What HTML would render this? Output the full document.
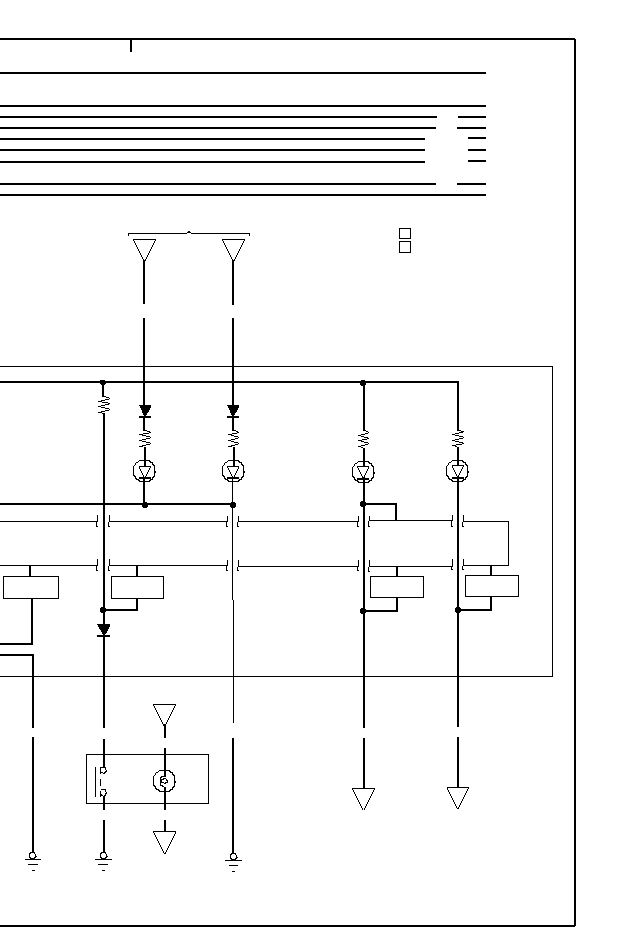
<!DOCTYPE html>
<html><head><meta charset="utf-8"><style>
html,body{margin:0;padding:0;background:#fff;width:640px;height:950px;overflow:hidden;font-family:"Liberation Sans",sans-serif}
svg{display:block}
</style></head><body>
<svg width="640" height="950" viewBox="0 0 640 950" shape-rendering="crispEdges">
<g fill="#000">
<rect x="0" y="38" width="575" height="2"/>
<rect x="574" y="39" width="2" height="887"/>
<rect x="0" y="925" width="575" height="2"/>
<rect x="130" y="38" width="2" height="14"/>
<rect x="0" y="72" width="486" height="2"/>
<rect x="0" y="105" width="486" height="2"/>
<rect x="0" y="116" width="437" height="2"/>
<rect x="458" y="116" width="28" height="2"/>
<rect x="0" y="127" width="436" height="2"/>
<rect x="457" y="127" width="29" height="2"/>
<rect x="0" y="138" width="425" height="2"/>
<rect x="468" y="137" width="18" height="2"/>
<rect x="0" y="149" width="425" height="2"/>
<rect x="468" y="149" width="18" height="2"/>
<rect x="0" y="161" width="425" height="2"/>
<rect x="468" y="160" width="18" height="2"/>
<rect x="0" y="183" width="436" height="2"/>
<rect x="457" y="183" width="29" height="2"/>
<rect x="0" y="194" width="486" height="2"/>
<rect x="399" y="228" width="12" height="1"/>
<rect x="399" y="238" width="12" height="1"/>
<rect x="399" y="228" width="1" height="11"/>
<rect x="410" y="228" width="1" height="11"/>
<rect x="399" y="241" width="12" height="1"/>
<rect x="399" y="252" width="12" height="1"/>
<rect x="399" y="241" width="1" height="12"/>
<rect x="410" y="241" width="1" height="12"/>
<rect x="128" y="233" width="1" height="3"/>
<rect x="128" y="233" width="59" height="1"/>
<rect x="187" y="232" width="4" height="1"/>
<rect x="188" y="231" width="2" height="1"/>
<rect x="191" y="233" width="59" height="1"/>
<rect x="249" y="233" width="1" height="3"/>
<rect x="133" y="239" width="23" height="1"/>
<rect x="133" y="240" width="1" height="1"/>
<rect x="155" y="240" width="1" height="1"/>
<rect x="134" y="241" width="1" height="1"/>
<rect x="154" y="241" width="1" height="1"/>
<rect x="134" y="242" width="1" height="1"/>
<rect x="154" y="242" width="1" height="1"/>
<rect x="135" y="243" width="1" height="1"/>
<rect x="153" y="243" width="1" height="1"/>
<rect x="135" y="244" width="1" height="1"/>
<rect x="153" y="244" width="1" height="1"/>
<rect x="136" y="245" width="1" height="1"/>
<rect x="152" y="245" width="1" height="1"/>
<rect x="136" y="246" width="1" height="1"/>
<rect x="152" y="246" width="1" height="1"/>
<rect x="137" y="247" width="1" height="1"/>
<rect x="151" y="247" width="1" height="1"/>
<rect x="137" y="248" width="1" height="1"/>
<rect x="151" y="248" width="1" height="1"/>
<rect x="138" y="249" width="1" height="1"/>
<rect x="150" y="249" width="1" height="1"/>
<rect x="138" y="250" width="1" height="1"/>
<rect x="150" y="250" width="1" height="1"/>
<rect x="139" y="251" width="1" height="1"/>
<rect x="149" y="251" width="1" height="1"/>
<rect x="139" y="252" width="1" height="1"/>
<rect x="149" y="252" width="1" height="1"/>
<rect x="140" y="253" width="1" height="1"/>
<rect x="148" y="253" width="1" height="1"/>
<rect x="140" y="254" width="1" height="1"/>
<rect x="148" y="254" width="1" height="1"/>
<rect x="141" y="255" width="1" height="1"/>
<rect x="147" y="255" width="1" height="1"/>
<rect x="141" y="256" width="1" height="1"/>
<rect x="147" y="256" width="1" height="1"/>
<rect x="142" y="257" width="1" height="1"/>
<rect x="146" y="257" width="1" height="1"/>
<rect x="142" y="258" width="1" height="1"/>
<rect x="146" y="258" width="1" height="1"/>
<rect x="143" y="259" width="1" height="1"/>
<rect x="145" y="259" width="1" height="1"/>
<rect x="143" y="260" width="1" height="1"/>
<rect x="145" y="260" width="1" height="1"/>
<rect x="222" y="239" width="23" height="1"/>
<rect x="222" y="240" width="1" height="1"/>
<rect x="244" y="240" width="1" height="1"/>
<rect x="223" y="241" width="1" height="1"/>
<rect x="243" y="241" width="1" height="1"/>
<rect x="223" y="242" width="1" height="1"/>
<rect x="243" y="242" width="1" height="1"/>
<rect x="224" y="243" width="1" height="1"/>
<rect x="242" y="243" width="1" height="1"/>
<rect x="224" y="244" width="1" height="1"/>
<rect x="242" y="244" width="1" height="1"/>
<rect x="225" y="245" width="1" height="1"/>
<rect x="241" y="245" width="1" height="1"/>
<rect x="225" y="246" width="1" height="1"/>
<rect x="241" y="246" width="1" height="1"/>
<rect x="226" y="247" width="1" height="1"/>
<rect x="240" y="247" width="1" height="1"/>
<rect x="226" y="248" width="1" height="1"/>
<rect x="240" y="248" width="1" height="1"/>
<rect x="227" y="249" width="1" height="1"/>
<rect x="239" y="249" width="1" height="1"/>
<rect x="227" y="250" width="1" height="1"/>
<rect x="239" y="250" width="1" height="1"/>
<rect x="228" y="251" width="1" height="1"/>
<rect x="238" y="251" width="1" height="1"/>
<rect x="228" y="252" width="1" height="1"/>
<rect x="238" y="252" width="1" height="1"/>
<rect x="229" y="253" width="1" height="1"/>
<rect x="237" y="253" width="1" height="1"/>
<rect x="229" y="254" width="1" height="1"/>
<rect x="237" y="254" width="1" height="1"/>
<rect x="230" y="255" width="1" height="1"/>
<rect x="236" y="255" width="1" height="1"/>
<rect x="230" y="256" width="1" height="1"/>
<rect x="236" y="256" width="1" height="1"/>
<rect x="231" y="257" width="1" height="1"/>
<rect x="235" y="257" width="1" height="1"/>
<rect x="231" y="258" width="1" height="1"/>
<rect x="235" y="258" width="1" height="1"/>
<rect x="232" y="259" width="1" height="1"/>
<rect x="234" y="259" width="1" height="1"/>
<rect x="232" y="260" width="1" height="1"/>
<rect x="234" y="260" width="1" height="1"/>
<rect x="0" y="366" width="553" height="1"/>
<rect x="552" y="366" width="1" height="311"/>
<rect x="0" y="676" width="553" height="1"/>
<rect x="0" y="381" width="459" height="2"/>
<rect x="457" y="381" width="2" height="50"/>
<rect x="0" y="503" width="234" height="2"/>
<rect x="363" y="503" width="34" height="2"/>
<rect x="395" y="503" width="2" height="18"/>
<rect x="143" y="260" width="2" height="44"/>
<rect x="143" y="318" width="2" height="87"/>
<rect x="139" y="405" width="12" height="1"/>
<rect x="140" y="406" width="11" height="1"/>
<rect x="140" y="407" width="11" height="1"/>
<rect x="141" y="408" width="9" height="1"/>
<rect x="141" y="409" width="9" height="1"/>
<rect x="142" y="410" width="7" height="1"/>
<rect x="142" y="411" width="7" height="1"/>
<rect x="142" y="412" width="6" height="1"/>
<rect x="143" y="413" width="4" height="1"/>
<rect x="143" y="414" width="4" height="1"/>
<rect x="144" y="415" width="2" height="1"/>
<rect x="139" y="416" width="12" height="2"/>
<rect x="143" y="418" width="2" height="12"/>
<rect x="143" y="430" width="4" height="1"/>
<rect x="147" y="431" width="3" height="1"/>
<rect x="149" y="432" width="2" height="1"/>
<rect x="143" y="433" width="6" height="1"/>
<rect x="139" y="434" width="4" height="1"/>
<rect x="142" y="435" width="4" height="1"/>
<rect x="146" y="436" width="4" height="1"/>
<rect x="150" y="437" width="1" height="1"/>
<rect x="146" y="438" width="4" height="1"/>
<rect x="142" y="439" width="4" height="1"/>
<rect x="139" y="440" width="3" height="1"/>
<rect x="142" y="441" width="4" height="1"/>
<rect x="146" y="442" width="4" height="1"/>
<rect x="150" y="443" width="1" height="1"/>
<rect x="146" y="444" width="4" height="1"/>
<rect x="142" y="445" width="4" height="1"/>
<rect x="139" y="446" width="4" height="1"/>
<rect x="144" y="447" width="2" height="19"/>
<rect x="139" y="460" width="11" height="1"/>
<rect x="138" y="461" width="1" height="1"/>
<rect x="149" y="461" width="2" height="1"/>
<rect x="136" y="462" width="2" height="1"/>
<rect x="150" y="462" width="3" height="1"/>
<rect x="135" y="463" width="1" height="1"/>
<rect x="152" y="463" width="1" height="1"/>
<rect x="135" y="464" width="1" height="1"/>
<rect x="152" y="464" width="2" height="1"/>
<rect x="134" y="465" width="1" height="1"/>
<rect x="153" y="465" width="2" height="1"/>
<rect x="133" y="466" width="1" height="1"/>
<rect x="154" y="466" width="1" height="1"/>
<rect x="133" y="467" width="1" height="1"/>
<rect x="154" y="467" width="1" height="1"/>
<rect x="133" y="468" width="1" height="1"/>
<rect x="154" y="468" width="1" height="1"/>
<rect x="133" y="469" width="1" height="1"/>
<rect x="154" y="469" width="1" height="1"/>
<rect x="133" y="470" width="1" height="1"/>
<rect x="154" y="470" width="1" height="1"/>
<rect x="133" y="471" width="1" height="1"/>
<rect x="154" y="471" width="2" height="1"/>
<rect x="133" y="472" width="1" height="1"/>
<rect x="154" y="472" width="2" height="1"/>
<rect x="133" y="473" width="1" height="1"/>
<rect x="154" y="473" width="1" height="1"/>
<rect x="133" y="474" width="1" height="1"/>
<rect x="154" y="474" width="1" height="1"/>
<rect x="133" y="475" width="2" height="1"/>
<rect x="154" y="475" width="1" height="1"/>
<rect x="134" y="476" width="2" height="1"/>
<rect x="153" y="476" width="2" height="1"/>
<rect x="135" y="477" width="1" height="1"/>
<rect x="152" y="477" width="2" height="1"/>
<rect x="135" y="478" width="2" height="1"/>
<rect x="152" y="478" width="1" height="1"/>
<rect x="136" y="479" width="3" height="1"/>
<rect x="150" y="479" width="3" height="1"/>
<rect x="138" y="480" width="2" height="1"/>
<rect x="149" y="480" width="2" height="1"/>
<rect x="139" y="481" width="11" height="1"/>
<rect x="139" y="466" width="12" height="1"/>
<rect x="139" y="467" width="1" height="1"/>
<rect x="139" y="468" width="1" height="1"/>
<rect x="140" y="469" width="1" height="1"/>
<rect x="140" y="470" width="1" height="1"/>
<rect x="141" y="471" width="1" height="1"/>
<rect x="141" y="472" width="1" height="1"/>
<rect x="142" y="473" width="1" height="1"/>
<rect x="142" y="474" width="1" height="1"/>
<rect x="143" y="475" width="1" height="1"/>
<rect x="143" y="476" width="1" height="1"/>
<rect x="150" y="467" width="1" height="1"/>
<rect x="149" y="468" width="1" height="1"/>
<rect x="149" y="469" width="1" height="1"/>
<rect x="148" y="470" width="1" height="1"/>
<rect x="148" y="471" width="1" height="1"/>
<rect x="147" y="472" width="1" height="1"/>
<rect x="147" y="473" width="1" height="1"/>
<rect x="146" y="474" width="1" height="1"/>
<rect x="146" y="475" width="1" height="1"/>
<rect x="145" y="476" width="1" height="1"/>
<rect x="139" y="477" width="12" height="2"/>
<rect x="143" y="479" width="2" height="24"/>
<rect x="143" y="502" width="4" height="1"/>
<rect x="142" y="503" width="6" height="1"/>
<rect x="142" y="504" width="6" height="1"/>
<rect x="142" y="505" width="6" height="1"/>
<rect x="142" y="506" width="6" height="1"/>
<rect x="143" y="507" width="4" height="1"/>
<rect x="232" y="260" width="2" height="45"/>
<rect x="232" y="318" width="2" height="87"/>
<rect x="227" y="405" width="12" height="1"/>
<rect x="228" y="406" width="11" height="1"/>
<rect x="228" y="407" width="11" height="1"/>
<rect x="229" y="408" width="9" height="1"/>
<rect x="229" y="409" width="9" height="1"/>
<rect x="230" y="410" width="7" height="1"/>
<rect x="230" y="411" width="7" height="1"/>
<rect x="230" y="412" width="6" height="1"/>
<rect x="231" y="413" width="4" height="1"/>
<rect x="231" y="414" width="4" height="1"/>
<rect x="232" y="415" width="2" height="1"/>
<rect x="227" y="416" width="12" height="2"/>
<rect x="232" y="418" width="2" height="12"/>
<rect x="232" y="430" width="4" height="1"/>
<rect x="236" y="431" width="2" height="1"/>
<rect x="237" y="432" width="2" height="1"/>
<rect x="232" y="433" width="5" height="1"/>
<rect x="228" y="434" width="4" height="1"/>
<rect x="231" y="435" width="3" height="1"/>
<rect x="234" y="436" width="4" height="1"/>
<rect x="238" y="437" width="1" height="1"/>
<rect x="235" y="438" width="3" height="1"/>
<rect x="231" y="439" width="4" height="1"/>
<rect x="228" y="440" width="3" height="1"/>
<rect x="231" y="441" width="3" height="1"/>
<rect x="234" y="442" width="4" height="1"/>
<rect x="238" y="443" width="1" height="1"/>
<rect x="235" y="444" width="3" height="1"/>
<rect x="231" y="445" width="4" height="1"/>
<rect x="228" y="446" width="4" height="1"/>
<rect x="233" y="447" width="2" height="19"/>
<rect x="228" y="460" width="11" height="1"/>
<rect x="227" y="461" width="1" height="1"/>
<rect x="238" y="461" width="2" height="1"/>
<rect x="225" y="462" width="2" height="1"/>
<rect x="239" y="462" width="3" height="1"/>
<rect x="224" y="463" width="1" height="1"/>
<rect x="241" y="463" width="1" height="1"/>
<rect x="224" y="464" width="1" height="1"/>
<rect x="241" y="464" width="2" height="1"/>
<rect x="223" y="465" width="1" height="1"/>
<rect x="242" y="465" width="2" height="1"/>
<rect x="222" y="466" width="1" height="1"/>
<rect x="243" y="466" width="1" height="1"/>
<rect x="222" y="467" width="1" height="1"/>
<rect x="243" y="467" width="1" height="1"/>
<rect x="222" y="468" width="1" height="1"/>
<rect x="243" y="468" width="1" height="1"/>
<rect x="222" y="469" width="1" height="1"/>
<rect x="243" y="469" width="1" height="1"/>
<rect x="222" y="470" width="1" height="1"/>
<rect x="243" y="470" width="1" height="1"/>
<rect x="222" y="471" width="1" height="1"/>
<rect x="243" y="471" width="2" height="1"/>
<rect x="222" y="472" width="1" height="1"/>
<rect x="243" y="472" width="2" height="1"/>
<rect x="222" y="473" width="1" height="1"/>
<rect x="243" y="473" width="1" height="1"/>
<rect x="222" y="474" width="1" height="1"/>
<rect x="243" y="474" width="1" height="1"/>
<rect x="222" y="475" width="2" height="1"/>
<rect x="243" y="475" width="1" height="1"/>
<rect x="223" y="476" width="2" height="1"/>
<rect x="242" y="476" width="2" height="1"/>
<rect x="224" y="477" width="1" height="1"/>
<rect x="241" y="477" width="2" height="1"/>
<rect x="224" y="478" width="2" height="1"/>
<rect x="241" y="478" width="1" height="1"/>
<rect x="225" y="479" width="3" height="1"/>
<rect x="239" y="479" width="3" height="1"/>
<rect x="227" y="480" width="2" height="1"/>
<rect x="238" y="480" width="2" height="1"/>
<rect x="228" y="481" width="11" height="1"/>
<rect x="227" y="466" width="12" height="1"/>
<rect x="227" y="467" width="1" height="1"/>
<rect x="228" y="468" width="1" height="1"/>
<rect x="228" y="469" width="1" height="1"/>
<rect x="229" y="470" width="1" height="1"/>
<rect x="229" y="471" width="1" height="1"/>
<rect x="230" y="472" width="1" height="1"/>
<rect x="230" y="473" width="1" height="1"/>
<rect x="231" y="474" width="1" height="1"/>
<rect x="231" y="475" width="1" height="1"/>
<rect x="232" y="476" width="1" height="1"/>
<rect x="238" y="467" width="1" height="1"/>
<rect x="238" y="468" width="1" height="1"/>
<rect x="237" y="469" width="1" height="1"/>
<rect x="237" y="470" width="1" height="1"/>
<rect x="236" y="471" width="1" height="1"/>
<rect x="236" y="472" width="1" height="1"/>
<rect x="235" y="473" width="1" height="1"/>
<rect x="235" y="474" width="1" height="1"/>
<rect x="234" y="475" width="1" height="1"/>
<rect x="234" y="476" width="1" height="1"/>
<rect x="227" y="477" width="12" height="2"/>
<rect x="232" y="479" width="1" height="24"/>
<rect x="231" y="502" width="4" height="1"/>
<rect x="230" y="503" width="6" height="1"/>
<rect x="230" y="504" width="6" height="1"/>
<rect x="230" y="505" width="6" height="1"/>
<rect x="230" y="506" width="6" height="1"/>
<rect x="231" y="507" width="4" height="1"/>
<rect x="232" y="508" width="1" height="92"/>
<rect x="233" y="600" width="1" height="123"/>
<rect x="232" y="738" width="2" height="115"/>
<rect x="102" y="383" width="2" height="13"/>
<rect x="100" y="380" width="5" height="1"/>
<rect x="100" y="381" width="6" height="1"/>
<rect x="100" y="382" width="6" height="1"/>
<rect x="100" y="383" width="6" height="1"/>
<rect x="101" y="384" width="4" height="1"/>
<rect x="102" y="396" width="4" height="1"/>
<rect x="106" y="397" width="3" height="1"/>
<rect x="109" y="398" width="1" height="1"/>
<rect x="105" y="399" width="4" height="1"/>
<rect x="101" y="400" width="4" height="1"/>
<rect x="98" y="401" width="4" height="1"/>
<rect x="102" y="402" width="6" height="1"/>
<rect x="108" y="403" width="2" height="1"/>
<rect x="105" y="404" width="4" height="1"/>
<rect x="101" y="405" width="4" height="1"/>
<rect x="98" y="406" width="3" height="1"/>
<rect x="101" y="407" width="4" height="1"/>
<rect x="105" y="408" width="4" height="1"/>
<rect x="109" y="409" width="1" height="1"/>
<rect x="105" y="410" width="4" height="1"/>
<rect x="101" y="411" width="4" height="1"/>
<rect x="98" y="412" width="4" height="1"/>
<rect x="102" y="413" width="1" height="1"/>
<rect x="103" y="413" width="2" height="211"/>
<rect x="97" y="624" width="13" height="1"/>
<rect x="98" y="625" width="12" height="1"/>
<rect x="98" y="626" width="12" height="1"/>
<rect x="99" y="627" width="10" height="1"/>
<rect x="99" y="628" width="10" height="1"/>
<rect x="100" y="629" width="8" height="1"/>
<rect x="101" y="630" width="7" height="1"/>
<rect x="101" y="631" width="6" height="1"/>
<rect x="102" y="632" width="5" height="1"/>
<rect x="102" y="633" width="4" height="1"/>
<rect x="103" y="634" width="2" height="1"/>
<rect x="97" y="635" width="13" height="2"/>
<rect x="103" y="637" width="2" height="91"/>
<rect x="101" y="607" width="4" height="1"/>
<rect x="100" y="608" width="6" height="1"/>
<rect x="100" y="609" width="6" height="1"/>
<rect x="100" y="610" width="6" height="1"/>
<rect x="100" y="611" width="6" height="1"/>
<rect x="101" y="612" width="4" height="1"/>
<rect x="103" y="739" width="2" height="28"/>
<rect x="103" y="797" width="2" height="13"/>
<rect x="103" y="820" width="2" height="32"/>
<rect x="363" y="383" width="2" height="47"/>
<rect x="361" y="380" width="4" height="1"/>
<rect x="360" y="381" width="6" height="1"/>
<rect x="360" y="382" width="6" height="1"/>
<rect x="360" y="383" width="6" height="1"/>
<rect x="360" y="384" width="6" height="1"/>
<rect x="361" y="385" width="4" height="1"/>
<rect x="363" y="430" width="3" height="1"/>
<rect x="366" y="431" width="2" height="1"/>
<rect x="368" y="432" width="1" height="1"/>
<rect x="365" y="433" width="3" height="1"/>
<rect x="361" y="434" width="4" height="1"/>
<rect x="358" y="435" width="3" height="1"/>
<rect x="361" y="436" width="3" height="1"/>
<rect x="364" y="437" width="4" height="1"/>
<rect x="367" y="438" width="2" height="1"/>
<rect x="362" y="439" width="5" height="1"/>
<rect x="358" y="440" width="4" height="1"/>
<rect x="361" y="441" width="3" height="1"/>
<rect x="364" y="442" width="4" height="1"/>
<rect x="368" y="443" width="1" height="1"/>
<rect x="365" y="444" width="3" height="1"/>
<rect x="361" y="445" width="4" height="1"/>
<rect x="358" y="446" width="3" height="1"/>
<rect x="361" y="447" width="2" height="1"/>
<rect x="363" y="448" width="2" height="19"/>
<rect x="358" y="461" width="11" height="1"/>
<rect x="357" y="462" width="1" height="1"/>
<rect x="368" y="462" width="2" height="1"/>
<rect x="355" y="463" width="2" height="1"/>
<rect x="369" y="463" width="3" height="1"/>
<rect x="354" y="464" width="1" height="1"/>
<rect x="371" y="464" width="1" height="1"/>
<rect x="354" y="465" width="1" height="1"/>
<rect x="371" y="465" width="2" height="1"/>
<rect x="353" y="466" width="1" height="1"/>
<rect x="372" y="466" width="2" height="1"/>
<rect x="352" y="467" width="1" height="1"/>
<rect x="373" y="467" width="1" height="1"/>
<rect x="352" y="468" width="1" height="1"/>
<rect x="373" y="468" width="1" height="1"/>
<rect x="352" y="469" width="1" height="1"/>
<rect x="373" y="469" width="1" height="1"/>
<rect x="352" y="470" width="1" height="1"/>
<rect x="373" y="470" width="1" height="1"/>
<rect x="352" y="471" width="1" height="1"/>
<rect x="373" y="471" width="1" height="1"/>
<rect x="352" y="472" width="1" height="1"/>
<rect x="373" y="472" width="2" height="1"/>
<rect x="352" y="473" width="1" height="1"/>
<rect x="373" y="473" width="2" height="1"/>
<rect x="352" y="474" width="1" height="1"/>
<rect x="373" y="474" width="1" height="1"/>
<rect x="352" y="475" width="1" height="1"/>
<rect x="373" y="475" width="1" height="1"/>
<rect x="352" y="476" width="2" height="1"/>
<rect x="373" y="476" width="1" height="1"/>
<rect x="353" y="477" width="2" height="1"/>
<rect x="372" y="477" width="2" height="1"/>
<rect x="354" y="478" width="1" height="1"/>
<rect x="371" y="478" width="2" height="1"/>
<rect x="354" y="479" width="2" height="1"/>
<rect x="371" y="479" width="1" height="1"/>
<rect x="355" y="480" width="3" height="1"/>
<rect x="369" y="480" width="3" height="1"/>
<rect x="357" y="481" width="2" height="1"/>
<rect x="368" y="481" width="2" height="1"/>
<rect x="358" y="482" width="11" height="1"/>
<rect x="357" y="466" width="12" height="1"/>
<rect x="357" y="467" width="1" height="1"/>
<rect x="358" y="468" width="1" height="1"/>
<rect x="358" y="469" width="1" height="1"/>
<rect x="359" y="470" width="1" height="1"/>
<rect x="359" y="471" width="1" height="1"/>
<rect x="360" y="472" width="1" height="1"/>
<rect x="360" y="473" width="1" height="1"/>
<rect x="361" y="474" width="1" height="1"/>
<rect x="361" y="475" width="1" height="1"/>
<rect x="362" y="476" width="1" height="1"/>
<rect x="362" y="477" width="1" height="1"/>
<rect x="368" y="467" width="1" height="1"/>
<rect x="368" y="468" width="1" height="1"/>
<rect x="367" y="469" width="1" height="1"/>
<rect x="367" y="470" width="1" height="1"/>
<rect x="366" y="471" width="1" height="1"/>
<rect x="366" y="472" width="1" height="1"/>
<rect x="365" y="473" width="1" height="1"/>
<rect x="365" y="474" width="1" height="1"/>
<rect x="364" y="475" width="1" height="1"/>
<rect x="364" y="476" width="1" height="1"/>
<rect x="363" y="477" width="1" height="1"/>
<rect x="364" y="477" width="1" height="1"/>
<rect x="357" y="478" width="12" height="2"/>
<rect x="363" y="480" width="2" height="248"/>
<rect x="361" y="501" width="4" height="1"/>
<rect x="360" y="502" width="6" height="1"/>
<rect x="360" y="503" width="6" height="1"/>
<rect x="360" y="504" width="6" height="1"/>
<rect x="360" y="505" width="6" height="1"/>
<rect x="361" y="506" width="4" height="1"/>
<rect x="361" y="608" width="4" height="1"/>
<rect x="360" y="609" width="6" height="1"/>
<rect x="360" y="610" width="6" height="1"/>
<rect x="360" y="611" width="6" height="1"/>
<rect x="360" y="612" width="6" height="1"/>
<rect x="361" y="613" width="4" height="1"/>
<rect x="363" y="738" width="2" height="50"/>
<rect x="352" y="788" width="23" height="1"/>
<rect x="352" y="789" width="1" height="1"/>
<rect x="374" y="789" width="1" height="1"/>
<rect x="353" y="790" width="1" height="1"/>
<rect x="373" y="790" width="1" height="1"/>
<rect x="353" y="791" width="1" height="1"/>
<rect x="373" y="791" width="1" height="1"/>
<rect x="354" y="792" width="1" height="1"/>
<rect x="372" y="792" width="1" height="1"/>
<rect x="354" y="793" width="1" height="1"/>
<rect x="372" y="793" width="1" height="1"/>
<rect x="355" y="794" width="1" height="1"/>
<rect x="371" y="794" width="1" height="1"/>
<rect x="355" y="795" width="1" height="1"/>
<rect x="371" y="795" width="1" height="1"/>
<rect x="356" y="796" width="1" height="1"/>
<rect x="370" y="796" width="1" height="1"/>
<rect x="356" y="797" width="1" height="1"/>
<rect x="370" y="797" width="1" height="1"/>
<rect x="357" y="798" width="1" height="1"/>
<rect x="369" y="798" width="1" height="1"/>
<rect x="357" y="799" width="1" height="1"/>
<rect x="369" y="799" width="1" height="1"/>
<rect x="358" y="800" width="1" height="1"/>
<rect x="368" y="800" width="1" height="1"/>
<rect x="358" y="801" width="1" height="1"/>
<rect x="368" y="801" width="1" height="1"/>
<rect x="359" y="802" width="1" height="1"/>
<rect x="367" y="802" width="1" height="1"/>
<rect x="359" y="803" width="1" height="1"/>
<rect x="367" y="803" width="1" height="1"/>
<rect x="360" y="804" width="1" height="1"/>
<rect x="366" y="804" width="1" height="1"/>
<rect x="360" y="805" width="1" height="1"/>
<rect x="366" y="805" width="1" height="1"/>
<rect x="361" y="806" width="1" height="1"/>
<rect x="365" y="806" width="1" height="1"/>
<rect x="361" y="807" width="1" height="1"/>
<rect x="365" y="807" width="1" height="1"/>
<rect x="362" y="808" width="1" height="1"/>
<rect x="364" y="808" width="1" height="1"/>
<rect x="362" y="809" width="1" height="1"/>
<rect x="364" y="809" width="1" height="1"/>
<rect x="457" y="430" width="4" height="1"/>
<rect x="461" y="431" width="3" height="1"/>
<rect x="459" y="432" width="4" height="1"/>
<rect x="455" y="433" width="4" height="1"/>
<rect x="452" y="434" width="3" height="1"/>
<rect x="455" y="435" width="4" height="1"/>
<rect x="459" y="436" width="4" height="1"/>
<rect x="463" y="437" width="1" height="1"/>
<rect x="459" y="438" width="4" height="1"/>
<rect x="455" y="439" width="4" height="1"/>
<rect x="452" y="440" width="3" height="1"/>
<rect x="455" y="441" width="4" height="1"/>
<rect x="459" y="442" width="4" height="1"/>
<rect x="462" y="443" width="2" height="1"/>
<rect x="456" y="444" width="6" height="1"/>
<rect x="452" y="445" width="4" height="1"/>
<rect x="455" y="446" width="2" height="1"/>
<rect x="457" y="447" width="2" height="18"/>
<rect x="452" y="460" width="11" height="1"/>
<rect x="451" y="461" width="1" height="1"/>
<rect x="462" y="461" width="2" height="1"/>
<rect x="449" y="462" width="2" height="1"/>
<rect x="463" y="462" width="3" height="1"/>
<rect x="448" y="463" width="1" height="1"/>
<rect x="465" y="463" width="1" height="1"/>
<rect x="448" y="464" width="1" height="1"/>
<rect x="465" y="464" width="2" height="1"/>
<rect x="447" y="465" width="1" height="1"/>
<rect x="466" y="465" width="2" height="1"/>
<rect x="446" y="466" width="1" height="1"/>
<rect x="467" y="466" width="1" height="1"/>
<rect x="446" y="467" width="1" height="1"/>
<rect x="467" y="467" width="1" height="1"/>
<rect x="446" y="468" width="1" height="1"/>
<rect x="467" y="468" width="1" height="1"/>
<rect x="446" y="469" width="1" height="1"/>
<rect x="467" y="469" width="1" height="1"/>
<rect x="446" y="470" width="1" height="1"/>
<rect x="467" y="470" width="1" height="1"/>
<rect x="446" y="471" width="1" height="1"/>
<rect x="467" y="471" width="2" height="1"/>
<rect x="446" y="472" width="1" height="1"/>
<rect x="467" y="472" width="2" height="1"/>
<rect x="446" y="473" width="1" height="1"/>
<rect x="467" y="473" width="1" height="1"/>
<rect x="446" y="474" width="1" height="1"/>
<rect x="467" y="474" width="1" height="1"/>
<rect x="446" y="475" width="2" height="1"/>
<rect x="467" y="475" width="1" height="1"/>
<rect x="447" y="476" width="2" height="1"/>
<rect x="466" y="476" width="2" height="1"/>
<rect x="448" y="477" width="1" height="1"/>
<rect x="465" y="477" width="2" height="1"/>
<rect x="448" y="478" width="2" height="1"/>
<rect x="465" y="478" width="1" height="1"/>
<rect x="449" y="479" width="3" height="1"/>
<rect x="463" y="479" width="3" height="1"/>
<rect x="451" y="480" width="2" height="1"/>
<rect x="462" y="480" width="2" height="1"/>
<rect x="452" y="481" width="11" height="1"/>
<rect x="452" y="465" width="12" height="1"/>
<rect x="452" y="466" width="1" height="1"/>
<rect x="452" y="467" width="1" height="1"/>
<rect x="453" y="468" width="1" height="1"/>
<rect x="453" y="469" width="1" height="1"/>
<rect x="454" y="470" width="1" height="1"/>
<rect x="454" y="471" width="1" height="1"/>
<rect x="455" y="472" width="1" height="1"/>
<rect x="455" y="473" width="1" height="1"/>
<rect x="456" y="474" width="1" height="1"/>
<rect x="456" y="475" width="1" height="1"/>
<rect x="457" y="476" width="1" height="1"/>
<rect x="463" y="466" width="1" height="1"/>
<rect x="462" y="467" width="1" height="1"/>
<rect x="462" y="468" width="1" height="1"/>
<rect x="461" y="469" width="1" height="1"/>
<rect x="461" y="470" width="1" height="1"/>
<rect x="460" y="471" width="1" height="1"/>
<rect x="460" y="472" width="1" height="1"/>
<rect x="459" y="473" width="1" height="1"/>
<rect x="459" y="474" width="1" height="1"/>
<rect x="458" y="475" width="1" height="1"/>
<rect x="458" y="476" width="1" height="1"/>
<rect x="452" y="477" width="12" height="2"/>
<rect x="457" y="479" width="2" height="248"/>
<rect x="456" y="607" width="4" height="1"/>
<rect x="455" y="608" width="6" height="1"/>
<rect x="455" y="609" width="6" height="1"/>
<rect x="455" y="610" width="6" height="1"/>
<rect x="455" y="611" width="6" height="1"/>
<rect x="456" y="612" width="4" height="1"/>
<rect x="457" y="737" width="2" height="50"/>
<rect x="447" y="787" width="22" height="1"/>
<rect x="447" y="788" width="1" height="1"/>
<rect x="468" y="788" width="1" height="1"/>
<rect x="447" y="789" width="1" height="1"/>
<rect x="448" y="790" width="1" height="1"/>
<rect x="467" y="789" width="1" height="1"/>
<rect x="448" y="791" width="1" height="1"/>
<rect x="467" y="790" width="1" height="1"/>
<rect x="449" y="792" width="1" height="1"/>
<rect x="466" y="791" width="1" height="1"/>
<rect x="449" y="793" width="1" height="1"/>
<rect x="466" y="792" width="1" height="1"/>
<rect x="450" y="794" width="1" height="1"/>
<rect x="465" y="793" width="1" height="1"/>
<rect x="450" y="795" width="1" height="1"/>
<rect x="465" y="794" width="1" height="1"/>
<rect x="451" y="796" width="1" height="1"/>
<rect x="464" y="795" width="1" height="1"/>
<rect x="451" y="797" width="1" height="1"/>
<rect x="464" y="796" width="1" height="1"/>
<rect x="452" y="798" width="1" height="1"/>
<rect x="463" y="797" width="1" height="1"/>
<rect x="452" y="799" width="1" height="1"/>
<rect x="463" y="798" width="1" height="1"/>
<rect x="453" y="800" width="1" height="1"/>
<rect x="462" y="799" width="1" height="1"/>
<rect x="453" y="801" width="1" height="1"/>
<rect x="462" y="800" width="1" height="1"/>
<rect x="454" y="802" width="1" height="1"/>
<rect x="461" y="801" width="1" height="1"/>
<rect x="454" y="803" width="1" height="1"/>
<rect x="461" y="802" width="1" height="1"/>
<rect x="455" y="804" width="1" height="1"/>
<rect x="460" y="803" width="1" height="1"/>
<rect x="455" y="805" width="1" height="1"/>
<rect x="460" y="804" width="1" height="1"/>
<rect x="456" y="806" width="1" height="1"/>
<rect x="459" y="805" width="1" height="1"/>
<rect x="456" y="807" width="1" height="1"/>
<rect x="459" y="806" width="1" height="1"/>
<rect x="457" y="808" width="1" height="1"/>
<rect x="458" y="807" width="1" height="1"/>
<rect x="457" y="809" width="1" height="1"/>
<rect x="458" y="808" width="1" height="1"/>
<rect x="457" y="809" width="1" height="1" fill="#fff"/>
<rect x="0" y="521" width="98" height="1"/>
<rect x="109" y="521" width="119" height="1"/>
<rect x="238" y="521" width="121" height="1"/>
<rect x="369" y="520" width="84" height="1"/>
<rect x="463" y="521" width="46" height="1"/>
<rect x="508" y="521" width="1" height="45"/>
<rect x="0" y="565" width="98" height="1"/>
<rect x="109" y="565" width="119" height="1"/>
<rect x="238" y="566" width="121" height="1"/>
<rect x="369" y="566" width="84" height="1"/>
<rect x="463" y="565" width="46" height="1"/>
<rect x="97" y="515" width="1" height="7"/>
<rect x="96" y="522" width="1" height="4"/>
<rect x="96" y="526" width="2" height="1"/>
<rect x="109" y="515" width="1" height="7"/>
<rect x="108" y="522" width="1" height="4"/>
<rect x="108" y="526" width="2" height="1"/>
<rect x="227" y="516" width="1" height="6"/>
<rect x="226" y="522" width="1" height="4"/>
<rect x="226" y="526" width="2" height="1"/>
<rect x="238" y="516" width="1" height="6"/>
<rect x="237" y="522" width="1" height="4"/>
<rect x="237" y="526" width="2" height="1"/>
<rect x="358" y="516" width="1" height="6"/>
<rect x="357" y="522" width="1" height="4"/>
<rect x="357" y="526" width="2" height="1"/>
<rect x="369" y="516" width="1" height="5"/>
<rect x="368" y="521" width="1" height="5"/>
<rect x="368" y="526" width="2" height="1"/>
<rect x="452" y="515" width="1" height="6"/>
<rect x="451" y="521" width="1" height="5"/>
<rect x="451" y="526" width="2" height="1"/>
<rect x="463" y="515" width="1" height="7"/>
<rect x="462" y="522" width="1" height="4"/>
<rect x="462" y="526" width="2" height="1"/>
<rect x="97" y="559" width="1" height="7"/>
<rect x="96" y="566" width="1" height="4"/>
<rect x="96" y="570" width="2" height="1"/>
<rect x="109" y="559" width="1" height="7"/>
<rect x="108" y="566" width="1" height="4"/>
<rect x="108" y="570" width="2" height="1"/>
<rect x="227" y="560" width="1" height="6"/>
<rect x="226" y="566" width="1" height="4"/>
<rect x="226" y="570" width="2" height="1"/>
<rect x="238" y="560" width="1" height="7"/>
<rect x="237" y="567" width="1" height="3"/>
<rect x="237" y="570" width="2" height="1"/>
<rect x="358" y="560" width="1" height="7"/>
<rect x="357" y="567" width="1" height="3"/>
<rect x="357" y="570" width="2" height="1"/>
<rect x="369" y="560" width="1" height="7"/>
<rect x="368" y="567" width="1" height="4"/>
<rect x="368" y="571" width="2" height="1"/>
<rect x="452" y="559" width="1" height="8"/>
<rect x="451" y="567" width="1" height="2"/>
<rect x="451" y="569" width="2" height="1"/>
<rect x="463" y="559" width="1" height="7"/>
<rect x="462" y="566" width="1" height="3"/>
<rect x="462" y="569" width="2" height="1"/>
<rect x="3" y="576" width="56" height="1"/>
<rect x="3" y="598" width="56" height="1"/>
<rect x="3" y="576" width="1" height="23"/>
<rect x="58" y="576" width="1" height="23"/>
<rect x="29" y="566" width="2" height="10"/>
<rect x="31" y="599" width="2" height="46"/>
<rect x="0" y="643" width="33" height="2"/>
<rect x="0" y="654" width="34" height="2"/>
<rect x="32" y="656" width="2" height="72"/>
<rect x="32" y="737" width="2" height="115"/>
<rect x="111" y="576" width="53" height="1"/>
<rect x="111" y="598" width="53" height="1"/>
<rect x="111" y="576" width="1" height="23"/>
<rect x="163" y="576" width="1" height="23"/>
<rect x="136" y="566" width="2" height="10"/>
<rect x="136" y="599" width="2" height="12"/>
<rect x="103" y="609" width="35" height="2"/>
<rect x="370" y="576" width="54" height="1"/>
<rect x="370" y="597" width="54" height="1"/>
<rect x="370" y="576" width="1" height="22"/>
<rect x="423" y="576" width="1" height="22"/>
<rect x="396" y="567" width="2" height="9"/>
<rect x="396" y="598" width="2" height="14"/>
<rect x="363" y="610" width="35" height="2"/>
<rect x="465" y="575" width="54" height="1"/>
<rect x="465" y="596" width="54" height="1"/>
<rect x="465" y="575" width="1" height="22"/>
<rect x="518" y="575" width="1" height="22"/>
<rect x="490" y="566" width="2" height="9"/>
<rect x="490" y="597" width="2" height="14"/>
<rect x="457" y="609" width="35" height="2"/>
<rect x="30" y="852" width="5" height="1"/>
<rect x="29" y="853" width="2" height="1"/>
<rect x="34" y="853" width="1" height="1"/>
<rect x="29" y="854" width="1" height="1"/>
<rect x="35" y="854" width="1" height="1"/>
<rect x="29" y="855" width="1" height="1"/>
<rect x="35" y="855" width="1" height="1"/>
<rect x="29" y="856" width="1" height="1"/>
<rect x="35" y="856" width="2" height="1"/>
<rect x="29" y="857" width="2" height="1"/>
<rect x="34" y="857" width="2" height="1"/>
<rect x="30" y="858" width="5" height="1"/>
<rect x="25" y="859" width="16" height="1"/>
<rect x="28" y="864" width="10" height="1"/>
<rect x="32" y="870" width="3" height="1"/>
<rect x="101" y="852" width="5" height="1"/>
<rect x="100" y="853" width="2" height="1"/>
<rect x="105" y="853" width="1" height="1"/>
<rect x="100" y="854" width="1" height="1"/>
<rect x="106" y="854" width="1" height="1"/>
<rect x="100" y="855" width="1" height="1"/>
<rect x="106" y="855" width="1" height="1"/>
<rect x="100" y="856" width="1" height="1"/>
<rect x="106" y="856" width="2" height="1"/>
<rect x="100" y="857" width="2" height="1"/>
<rect x="105" y="857" width="2" height="1"/>
<rect x="101" y="858" width="5" height="1"/>
<rect x="95" y="859" width="17" height="1"/>
<rect x="98" y="864" width="10" height="1"/>
<rect x="102" y="870" width="3" height="1"/>
<rect x="231" y="853" width="5" height="1"/>
<rect x="230" y="854" width="2" height="1"/>
<rect x="235" y="854" width="1" height="1"/>
<rect x="230" y="855" width="1" height="1"/>
<rect x="236" y="855" width="1" height="1"/>
<rect x="230" y="856" width="1" height="1"/>
<rect x="236" y="856" width="1" height="1"/>
<rect x="230" y="857" width="1" height="1"/>
<rect x="236" y="857" width="2" height="1"/>
<rect x="230" y="858" width="2" height="1"/>
<rect x="235" y="858" width="2" height="1"/>
<rect x="231" y="859" width="5" height="1"/>
<rect x="225" y="860" width="17" height="1"/>
<rect x="229" y="865" width="9" height="1"/>
<rect x="232" y="871" width="3" height="1"/>
<rect x="86" y="754" width="123" height="1"/>
<rect x="86" y="803" width="123" height="1"/>
<rect x="86" y="754" width="1" height="50"/>
<rect x="208" y="754" width="1" height="50"/>
<rect x="153" y="704" width="23" height="1"/>
<rect x="153" y="705" width="1" height="1"/>
<rect x="175" y="705" width="1" height="1"/>
<rect x="154" y="706" width="1" height="1"/>
<rect x="174" y="706" width="1" height="1"/>
<rect x="154" y="707" width="1" height="1"/>
<rect x="174" y="707" width="1" height="1"/>
<rect x="155" y="708" width="1" height="1"/>
<rect x="173" y="708" width="1" height="1"/>
<rect x="155" y="709" width="1" height="1"/>
<rect x="173" y="709" width="1" height="1"/>
<rect x="156" y="710" width="1" height="1"/>
<rect x="172" y="710" width="1" height="1"/>
<rect x="156" y="711" width="1" height="1"/>
<rect x="172" y="711" width="1" height="1"/>
<rect x="157" y="712" width="1" height="1"/>
<rect x="171" y="712" width="1" height="1"/>
<rect x="157" y="713" width="1" height="1"/>
<rect x="171" y="713" width="1" height="1"/>
<rect x="158" y="714" width="1" height="1"/>
<rect x="170" y="714" width="1" height="1"/>
<rect x="158" y="715" width="1" height="1"/>
<rect x="170" y="715" width="1" height="1"/>
<rect x="159" y="716" width="1" height="1"/>
<rect x="169" y="716" width="1" height="1"/>
<rect x="159" y="717" width="1" height="1"/>
<rect x="169" y="717" width="1" height="1"/>
<rect x="160" y="718" width="1" height="1"/>
<rect x="168" y="718" width="1" height="1"/>
<rect x="160" y="719" width="1" height="1"/>
<rect x="168" y="719" width="1" height="1"/>
<rect x="161" y="720" width="1" height="1"/>
<rect x="167" y="720" width="1" height="1"/>
<rect x="161" y="721" width="1" height="1"/>
<rect x="167" y="721" width="1" height="1"/>
<rect x="162" y="722" width="1" height="1"/>
<rect x="166" y="722" width="1" height="1"/>
<rect x="162" y="723" width="1" height="1"/>
<rect x="166" y="723" width="1" height="1"/>
<rect x="163" y="724" width="1" height="1"/>
<rect x="165" y="724" width="1" height="1"/>
<rect x="163" y="725" width="1" height="1"/>
<rect x="165" y="725" width="1" height="1"/>
<rect x="164" y="724" width="2" height="14"/>
<rect x="164" y="748" width="2" height="28"/>
<rect x="159" y="770" width="11" height="1"/>
<rect x="158" y="771" width="1" height="1"/>
<rect x="169" y="771" width="2" height="1"/>
<rect x="156" y="772" width="2" height="1"/>
<rect x="170" y="772" width="3" height="1"/>
<rect x="155" y="773" width="1" height="1"/>
<rect x="172" y="773" width="1" height="1"/>
<rect x="155" y="774" width="1" height="1"/>
<rect x="172" y="774" width="2" height="1"/>
<rect x="154" y="775" width="1" height="1"/>
<rect x="173" y="775" width="2" height="1"/>
<rect x="153" y="776" width="1" height="1"/>
<rect x="174" y="776" width="1" height="1"/>
<rect x="153" y="777" width="1" height="1"/>
<rect x="174" y="777" width="1" height="1"/>
<rect x="153" y="778" width="1" height="1"/>
<rect x="174" y="778" width="1" height="1"/>
<rect x="153" y="779" width="1" height="1"/>
<rect x="174" y="779" width="1" height="1"/>
<rect x="153" y="780" width="1" height="1"/>
<rect x="174" y="780" width="1" height="1"/>
<rect x="153" y="781" width="1" height="1"/>
<rect x="174" y="781" width="2" height="1"/>
<rect x="153" y="782" width="1" height="1"/>
<rect x="174" y="782" width="2" height="1"/>
<rect x="153" y="783" width="1" height="1"/>
<rect x="174" y="783" width="1" height="1"/>
<rect x="153" y="784" width="1" height="1"/>
<rect x="174" y="784" width="1" height="1"/>
<rect x="153" y="785" width="2" height="1"/>
<rect x="174" y="785" width="1" height="1"/>
<rect x="154" y="786" width="2" height="1"/>
<rect x="173" y="786" width="2" height="1"/>
<rect x="155" y="787" width="1" height="1"/>
<rect x="172" y="787" width="2" height="1"/>
<rect x="155" y="788" width="2" height="1"/>
<rect x="172" y="788" width="1" height="1"/>
<rect x="156" y="789" width="3" height="1"/>
<rect x="170" y="789" width="3" height="1"/>
<rect x="158" y="790" width="2" height="1"/>
<rect x="169" y="790" width="2" height="1"/>
<rect x="159" y="791" width="11" height="1"/>
<rect x="161" y="776" width="5" height="1"/>
<rect x="160" y="777" width="2" height="1"/>
<rect x="160" y="778" width="1" height="1"/>
<rect x="163" y="778" width="3" height="1"/>
<rect x="160" y="779" width="4" height="1"/>
<rect x="166" y="779" width="1" height="1"/>
<rect x="160" y="780" width="2" height="1"/>
<rect x="166" y="780" width="2" height="1"/>
<rect x="160" y="781" width="2" height="1"/>
<rect x="167" y="781" width="1" height="1"/>
<rect x="160" y="782" width="4" height="1"/>
<rect x="165" y="782" width="3" height="1"/>
<rect x="160" y="783" width="1" height="1"/>
<rect x="164" y="783" width="2" height="1"/>
<rect x="160" y="784" width="1" height="1"/>
<rect x="160" y="785" width="3" height="1"/>
<rect x="162" y="786" width="2" height="1"/>
<rect x="164" y="787" width="2" height="23"/>
<rect x="164" y="820" width="2" height="11"/>
<rect x="153" y="831" width="23" height="1"/>
<rect x="153" y="832" width="1" height="1"/>
<rect x="175" y="832" width="1" height="1"/>
<rect x="175" y="833" width="1" height="1"/>
<rect x="154" y="833" width="1" height="1"/>
<rect x="174" y="834" width="1" height="1"/>
<rect x="154" y="834" width="1" height="1"/>
<rect x="174" y="835" width="1" height="1"/>
<rect x="155" y="835" width="1" height="1"/>
<rect x="173" y="836" width="1" height="1"/>
<rect x="155" y="836" width="1" height="1"/>
<rect x="173" y="837" width="1" height="1"/>
<rect x="156" y="837" width="1" height="1"/>
<rect x="172" y="838" width="1" height="1"/>
<rect x="156" y="838" width="1" height="1"/>
<rect x="172" y="839" width="1" height="1"/>
<rect x="157" y="839" width="1" height="1"/>
<rect x="171" y="840" width="1" height="1"/>
<rect x="157" y="840" width="1" height="1"/>
<rect x="171" y="841" width="1" height="1"/>
<rect x="158" y="841" width="1" height="1"/>
<rect x="170" y="842" width="1" height="1"/>
<rect x="158" y="842" width="1" height="1"/>
<rect x="170" y="843" width="1" height="1"/>
<rect x="159" y="843" width="1" height="1"/>
<rect x="169" y="844" width="1" height="1"/>
<rect x="159" y="844" width="1" height="1"/>
<rect x="169" y="845" width="1" height="1"/>
<rect x="160" y="845" width="1" height="1"/>
<rect x="168" y="846" width="1" height="1"/>
<rect x="160" y="846" width="1" height="1"/>
<rect x="168" y="847" width="1" height="1"/>
<rect x="161" y="847" width="1" height="1"/>
<rect x="167" y="848" width="1" height="1"/>
<rect x="161" y="848" width="1" height="1"/>
<rect x="167" y="849" width="1" height="1"/>
<rect x="162" y="849" width="1" height="1"/>
<rect x="166" y="850" width="1" height="1"/>
<rect x="162" y="850" width="1" height="1"/>
<rect x="166" y="851" width="1" height="1"/>
<rect x="163" y="851" width="1" height="1"/>
<rect x="165" y="852" width="1" height="1"/>
<rect x="163" y="852" width="1" height="1"/>
<rect x="165" y="853" width="1" height="1"/>
<rect x="164" y="853" width="1" height="1"/>
<rect x="165" y="853" width="1" height="1"/>
<rect x="95" y="767" width="1" height="30"/>
<rect x="100" y="779" width="1" height="7"/>
<rect x="100" y="767" width="6" height="1"/>
<rect x="100" y="768" width="1" height="1"/>
<rect x="105" y="768" width="1" height="1"/>
<rect x="100" y="769" width="1" height="1"/>
<rect x="105" y="769" width="1" height="1"/>
<rect x="100" y="770" width="1" height="1"/>
<rect x="106" y="770" width="1" height="1"/>
<rect x="100" y="771" width="1" height="1"/>
<rect x="105" y="771" width="2" height="1"/>
<rect x="100" y="772" width="3" height="1"/>
<rect x="104" y="772" width="2" height="1"/>
<rect x="100" y="773" width="1" height="1"/>
<rect x="103" y="773" width="2" height="1"/>
<rect x="101" y="789" width="5" height="1"/>
<rect x="105" y="790" width="1" height="1"/>
<rect x="100" y="791" width="1" height="1"/>
<rect x="105" y="791" width="1" height="1"/>
<rect x="100" y="792" width="1" height="1"/>
<rect x="106" y="792" width="1" height="1"/>
<rect x="100" y="793" width="1" height="1"/>
<rect x="105" y="793" width="2" height="1"/>
<rect x="100" y="794" width="2" height="1"/>
<rect x="105" y="794" width="1" height="1"/>
<rect x="100" y="795" width="3" height="1"/>
<rect x="104" y="795" width="2" height="1"/>
<rect x="100" y="796" width="1" height="1"/>
<rect x="103" y="796" width="2" height="1"/>
</g>
</svg>
</body></html>
